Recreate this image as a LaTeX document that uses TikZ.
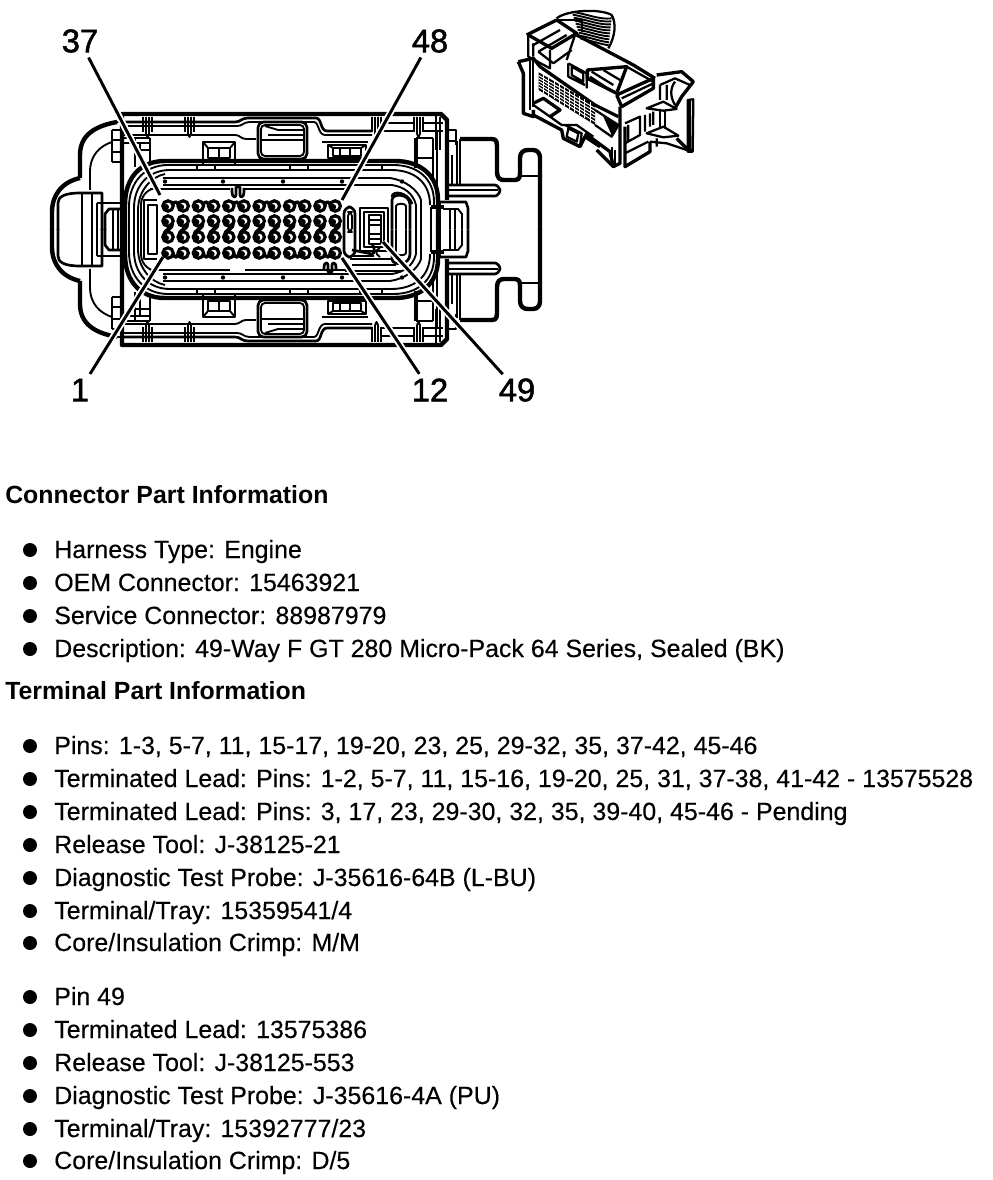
\documentclass[tikz,border=0pt]{standalone}
\usepackage{fontspec}
\setmainfont{Liberation Sans}
\newfontfamily\numfont[FakeBold=1.6]{Liberation Sans}
\newfontfamily\itemfont[FakeBold=0.25]{Liberation Sans}
\tikzset{
  thinl/.style={draw=black,line width=1.4pt,line join=round},
  medl/.style={draw=black,line width=2pt,line join=round},
  thickl/.style={draw=black,line width=3.3pt,line join=round},
  leader/.style={preaction={draw=white,line width=5pt},draw=black,line width=2.2pt},
  numlabel/.style={font=\fontsize{24.5}{28}\numfont,inner sep=0pt},
  head/.style={font=\fontsize{18.65}{22}\selectfont\bfseries,inner sep=0pt,anchor=base west},
  item/.style={font=\fontsize{18.7}{22}\itemfont,inner sep=0pt,anchor=base west},
  dotb/.style={circle,fill=black,minimum size=10.5pt,inner sep=0pt}
}
\newcommand{\halfbody}{%
  % outer body
  \draw[thickl] (122,230) -- (122,114) -- (441,114) -- (447,120) -- (447,200);
  \draw[medl] (116,122) -- (122,122);
  % left flange
  \draw[thickl] (117,122) .. controls (95,126) and (80,135) .. (80,155) -- (80,178);
  \draw[thinl] (112,142) .. controls (100,146) and (90,155) .. (90,172) -- (90,190);
  \draw[thickl] (80,178) .. controls (62,182) and (52,195) .. (52,212) -- (52,230);
  % lobe
  \draw[medl] (58,230) -- (58,203) .. controls (58,197) and (64,193) .. (80,193) -- (102,193) -- (102,230);
  \draw[medl] (82,193) -- (82,230);
  \draw[thinl] (92,193) -- (92,230);
  \draw[thinl] (97,203) -- (122,203);
  \draw[medl] (97,230) -- (97,203);
  \draw[medl] (105,230) -- (105,214) -- (109,209) -- (122,209);
  \draw[thinl] (113,209) -- (113,230); \draw[thinl] (118,209) -- (118,230);
  \draw[thinl] (112,130) -- (120,130) (112,130) -- (112,162) (120,140) -- (112,140) (120,152) -- (112,152);
  \draw[thinl] (112,162) -- (120,162);
  % top rail lines
  \draw[medl] (123,122) -- (235,122) .. controls (241,122) and (241,118) .. (248,118) -- (316,118) .. controls (322,118) and (320,131) .. (327,131) -- (372,131);
  \draw[thinl] (123,126) -- (237,126) .. controls (243,126) and (243,122) .. (250,122) -- (314,122) .. controls (319,122) and (318,135) .. (325,135) -- (372,135);
  \draw[thinl] (123,135) -- (235,135) .. controls (240,135) and (241,139) .. (246,139) -- (256,139);
  \draw[thinl] (380,123) -- (415,123) (380,131) -- (415,131) (423,123) -- (443,123) (423,131) -- (443,131);
  % ribs
  \foreach \x in {143,185,372,414}{
    \draw[thinl] (\x,117) -- (\x,132) (\x+3,117) -- (\x+3,134) (\x+6,117) -- (\x+6,134) (\x+9,117) -- (\x+9,132);
    \draw[thinl] (\x+3,134) -- (\x+4.5,137) -- (\x+6,134);
  }
  % windows
  \draw[medl,rounded corners=4pt] (258,122) rectangle (307,159);
  \draw[thinl,rounded corners=3pt] (261,125) rectangle (304,156);
  \draw[medl] (261,140) -- (304,140);
  \draw[thinl] (265,126) -- (278,130) -- (304,130);
  \draw[thinl] (268,135) -- (304,135);
  % small frames
  \draw[medl] (203,142) rectangle (235,165);
  \draw[medl] (208,148) rectangle (230,158);
  \draw[thinl] (203,142) -- (208,148) (235,142) -- (230,148) (219,148) -- (219,158);
  \draw[thinl] (322,142) -- (368,142);
  \draw[medl] (328,145) rectangle (366,158);
  \draw[thinl] (333,148) rectangle (361,156);
  \draw[thinl] (340,148) -- (340,156) (350,148) -- (350,156) (328,145) -- (333,148) (366,145) -- (361,148);
  \draw[thinl] (122,138) -- (150,138) (122,143) -- (150,143) (135,150) -- (150,150) (135,138) -- (135,167) (140,143) -- (140,162) (150,138) -- (150,165);
  % long rails
  \draw[thinl] (197,165) -- (197,170) (215,165) -- (215,170) (290,165) -- (290,170) (308,165) -- (308,170) (360,165) -- (360,170) (382,165) -- (382,170);
  % nested rounded outlines, top half
  \draw[thickl] (125,230) -- (125,205) .. controls (125,178) and (140,161) .. (165,161) -- (395,161) .. controls (420,161) and (438,175) .. (438,200) -- (438,230);
  \draw[thinl] (129,230) -- (129,207) .. controls (129,182) and (145,165) .. (168,165) -- (393,165) .. controls (417,165) and (434,178) .. (434,202) -- (434,207);
  \draw[thinl] (134,230) -- (134,208) .. controls (134,186) and (148,170) .. (170,170) -- (391,170) .. controls (414,170) and (430,182) .. (430,205);
  \draw[thinl] (138,230) -- (138,210) .. controls (138,192) and (150,177) .. (165,174);
  % inner rails
  \draw[medl] (163,178) -- (390,178);
  \draw[medl] (163,185) -- (392,185);
  \draw[medl] (150,189) -- (230,189) (245,189) -- (350,189);
  \draw[thinl] (390,178) .. controls (405,180) and (418,190) .. (421,200) -- (421,230);
  \draw[thinl] (392,185) .. controls (404,187) and (413,193) .. (416,205) -- (416,230);
  % rail dots
  \foreach \x in {165,223,283,342,402}{\fill (\x,181.5) circle (2.2);}
  % left pin recess
  \draw[thinl] (141,230) -- (141,205) .. controls (141,197) and (146,190) .. (155,188);
  \draw[medl] (144,230) -- (144,200) -- (157,200);
  \draw[thinl] (148,230) -- (148,205) -- (157,205) -- (157,230);
  % pin 49 pocket
  \draw[medl] (360,229.5) -- (360,208) -- (388,208) -- (388,229.5);
  \draw[thinl] (364,229.5) -- (364,212) -- (384,212) -- (384,229.5);
  \draw[thinl] (369,229.5) -- (369,215) -- (381,215) -- (381,229.5);
  \draw[thinl] (369,220) -- (381,220) (369,225) -- (381,225);
  % long U
  \draw[medl] (392,229.5) -- (392,200) .. controls (392,193) and (410,193) .. (410,205) -- (410,229.5);
  \draw[thinl] (396,229.5) -- (396,206) .. controls (396,203) and (406,203) .. (406,206) -- (406,229.5);
  % right side
  \draw[thickl] (431,207) -- (444,207);
  \draw[thinl] (431,207) -- (431,229.5) (440,202) -- (440,229.5);
  \draw[medl] (440,202) -- (466,202) -- (468,208) -- (468,229.5);
  \draw[thinl] (443,209) -- (458,209) -- (462,214) -- (462,229.5) (450,209) -- (450,229.5) (455,209) -- (455,229.5);
  % right blocks
  \draw[thickl] (416,138) -- (416,168);
  \draw[medl] (416,138) -- (433,138) (416,158) -- (433,158) (433,138) -- (433,178);
  \draw[thinl] (437,130) -- (437,190);
  \draw[medl] (447,130) -- (456,130) -- (456,145);
  \draw[thinl] (447,141) -- (456,141);
  \draw[thinl] (452,155) -- (452,185) (457,141) -- (457,185);
  % right arms
  \draw[thickl] (460,139) -- (492,139) .. controls (497,139) and (497,143) .. (497,146) -- (497,172) .. controls (497,178) and (500,180) .. (504,180) -- (515,180) .. controls (520,180) and (520,176) .. (520,172) -- (520,158) .. controls (520,152) and (524,150) .. (528,150) -- (533,150) .. controls (538,150) and (540,154) .. (540,158) -- (540,230);
  \draw[medl] (520,176) -- (540,176);
  \draw[medl] (460,139) -- (460,185);
  \draw[medl] (447,185) -- (495,185) .. controls (498,185) and (500,190) .. (500,190) .. controls (500,193) and (497,196) .. (495,196) -- (447,196);
  \draw[thinl] (447,190) -- (498,190);
  % corner detail
  \draw[medl] (436,114) -- (436,150);
  \draw[thinl] (440,117) -- (440,150) ;
}
\begin{document}
\begin{tikzpicture}[x=0.75pt,y=-0.75pt]
  \useasboundingbox (0,0) rectangle (992,1180);
  \fill[white] (0,0) rectangle (992,1180);
  % connector plan: upper half and its mirror image
  \begin{scope}\halfbody\end{scope}
  \begin{scope}[yshift=-344.25pt,yscale=-1]\halfbody\end{scope}
  % unmirrored details
  \draw[medl] (232,188) -- (232,192) .. controls (232,198) and (236,198) .. (236,195) -- (236,187) -- (240,187) -- (240,195) .. controls (240,198) and (244,198) .. (244,192) -- (244,188);
  \draw[medl] (324,271) -- (324,267) .. controls (324,262) and (328,262) .. (328,265) -- (328,272) -- (332,272) -- (332,265) .. controls (332,262) and (336,262) .. (336,267) -- (336,271);
  \draw[medl,rounded corners=5pt] (344,207) rectangle (355,257);
  \draw[thinl,rounded corners=3pt] (348,212) rectangle (352,232);
  \draw[medl] (352,250) -- (372,254) .. controls (376,254) and (374,246) .. (372,244);
  \draw[thinl] (352,256) -- (374,256) (380,248) .. controls (375,250) and (375,254) .. (380,257);
  \draw[medl] (350,259) -- (392,259) (352,265) -- (396,265) (345,271) -- (402,271);
  \draw[medl] (392,197) .. controls (392,190) and (408,192) .. (412,204);
  % pin cavities
  \foreach \i in {0,...,11}{
    \pgfmathsetmacro{\xx}{168+15.2*\i}
    \foreach \yy in {206,221,237,253}{
      \draw[line width=2.4pt] (\xx,\yy) circle (5.2);
      \fill (\xx-2,\yy+1) circle (3);
    }
    \draw[line width=3pt] (\xx+3,223) .. controls (\xx+7,228) and (\xx-6,231) .. (\xx-3,235);
  }
  \foreach \i in {0,2,...,10}{
    \pgfmathsetmacro{\xx}{168+15.2*\i}
    \draw[line width=2.4pt] (\xx+5,204) .. controls (\xx+7,201) and (\xx+9,202) .. (\xx+10,204);
    \draw[line width=2.4pt] (\xx+5,254) .. controls (\xx+7,258) and (\xx+9,258) .. (\xx+10,254);
  }
  % perspective thumbnail, drawn in 3x crop units
  \begin{scope}[xshift=375pt,yshift=-7.5pt,x=0.25pt,y=-0.25pt,medl/.append style={line width=1.7pt},thickl/.append style={line width=2.5pt}]
    \draw[medl] (170,25) .. controls (200,0) and (300,-5) .. (335,15) .. controls (350,40) and (345,80) .. (325,115);
    \foreach \k in {0,1,...,9}{
      \draw[thinl] (215+\k*3,5+\k*9) .. controls (260+\k*2,12+\k*9) and (300,30+\k*8) .. (335-\k*1,25+\k*9);
    }
    \draw[thickl] (80,75) -- (170,30) -- (230,70) -- (155,115) -- (85,75);
    \draw[medl] (170,30) -- (245,30) -- (245,65);
    \draw[medl] (100,105) -- (180,60) (115,125) -- (200,75) (85,75) -- (85,140) -- (150,175) -- (150,120);
    \draw[medl] (225,75) -- (200,150) (100,100) -- (100,140) (115,125) -- (160,160) (160,160) -- (215,120);
    \draw[thickl] (230,75) -- (400,165) -- (465,205);
    \draw[medl] (205,160) -- (260,190) -- (260,235);
    \draw[medl] (205,160) -- (205,200) -- (255,225) (215,170) -- (250,190) -- (250,215) -- (215,195) -- cycle;
    \draw[thickl] (55,155) -- (100,145) -- (120,170) -- (285,285) -- (355,320);
    \draw[thickl] (55,155) -- (70,190) -- (70,310) -- (100,320) -- (100,300);
    \draw[medl] (90,150) -- (90,300) (100,150) -- (100,290);
    \fill (116,187) -- (285,285) -- (285,345) -- (116,240) -- cycle;
    \foreach \k in {1,...,10}{
      \draw[white,line width=.7pt] (116+\k*15.4,187+\k*8.9) -- (116+\k*15.4,240+\k*9.5);
    }
    \foreach \k in {1,...,5}{
      \draw[white,line width=.7pt] (116,187+\k*8.8) -- (285,285+\k*10);
    }
    \draw[thickl] (100,280) -- (130,265) -- (180,300) -- (150,320);
    \draw[medl] (100,285) -- (150,320) -- (185,345) -- (230,345) -- (280,380);
    \draw[thickl] (100,315) -- (185,360) -- (190,385) -- (240,410) -- (255,380) -- (300,410);
    \draw[medl] (195,345) -- (245,370) -- (240,410) (205,355) -- (235,370) -- (230,395) -- (200,380) -- cycle;
    \draw[thickl] (290,420) -- (340,470) -- (360,460) -- (360,290);
    \draw[thickl] (255,370) -- (330,425) -- (340,470);
    \draw[medl] (285,300) -- (355,345) -- (335,380) -- (285,345);
    \fill (310,320) -- (355,345) -- (335,375) -- cycle;
    \draw[thickl] (262,180) -- (380,170) -- (350,250) -- (262,205) -- cycle;
    \draw[medl] (275,185) -- (340,225) (310,180) -- (360,210) (270,200) -- (330,240);
    \draw[thickl] (350,255) -- (460,205) -- (460,235) -- (365,290) -- (350,255);
    \draw[medl] (380,170) -- (460,215) (365,265) -- (460,220);
    \draw[thickl] (470,195) -- (545,185) -- (580,215) -- (545,260) -- (525,295);
    \draw[medl] (480,225) -- (525,205) -- (570,225) (480,225) -- (480,270) (500,225) -- (500,270) (525,215) .. controls (510,235) and (510,260) .. (525,285);
    \draw[medl] (440,295) -- (490,275) -- (530,297) -- (490,302) -- cycle;
    \draw[medl] (440,370) -- (490,350) -- (535,377) -- (490,382) -- cycle;
    \draw[medl] (480,302) -- (480,352) (495,302) -- (495,352);
    \draw[medl] (563,270) -- (580,268) -- (578,425) -- (563,425) -- cycle (570,270) -- (570,425);
    \draw[thickl] (375,350) -- (375,470) -- (450,425) -- (450,395);
    \draw[medl] (375,340) -- (420,320) -- (420,375) -- (375,400) (385,345) -- (385,395) (435,315) -- (435,365) (450,310) -- (450,350) (460,305) -- (460,345);
    \draw[medl] (375,430) -- (445,395) (450,395) -- (500,400) -- (575,425) (470,385) -- (470,410);
    \draw[thickl] (530,385) -- (555,410) -- (578,425);
    \draw[medl] (345,420) -- (345,470) (335,410) -- (335,465);
  \end{scope}
  % callouts
  \node[numlabel] (n37) at (80,41) {37};
  \node[numlabel] (n48) at (430,41) {48};
  \node[numlabel] (n1) at (80,390) {1};
  \node[numlabel] (n12) at (430,390) {12};
  \node[numlabel] (n49) at (517,390) {49};
  \coordinate (p37) at (160,195);
  \coordinate (p48) at (342,200);
  \coordinate (p1) at (163,257);
  \coordinate (p12) at (342,258);
  \coordinate (p49) at (383,242);
  \draw[leader,shorten <=4pt] (n37) -- (p37);
  \draw[leader,shorten <=4pt] (n48) -- (p48);
  \draw[leader,shorten <=4pt] (n1) -- (p1);
  \draw[leader,shorten <=4pt] (n12) -- (p12);
  \draw[leader,shorten <=4pt] (n49) -- (p49);
  % text
  \node[head] (h1) at (5,503) {Connector Part Information};
  \node[head] (h2) at (5,699) {Terminal Part Information};
  \foreach \nm/\yy/\tx in {
    a/558/{Harness Type: Engine},
    b/591/{OEM Connector: 15463921},
    c/624/{Service Connector: 88987979},
    d/657/{Description: 49-Way F GT 280 Micro-Pack 64 Series, Sealed (BK)},
    e/754/{Pins: 1-3, 5-7, 11, 15-17, 19-20, 23, 25, 29-32, 35, 37-42, 45-46},
    f/787/{Terminated Lead: Pins: 1-2, 5-7, 11, 15-16, 19-20, 25, 31, 37-38, 41-42 - 13575528},
    g/820/{Terminated Lead: Pins: 3, 17, 23, 29-30, 32, 35, 39-40, 45-46 - Pending},
    i/853/{Release Tool: J-38125-21},
    j/886/{Diagnostic Test Probe: J-35616-64B (L-BU)},
    k/919/{Terminal/Tray: 15359541/4},
    l/951/{Core/Insulation Crimp: M/M},
    m/1005/{Pin 49},
    n/1038/{Terminated Lead: 13575386},
    o/1071/{Release Tool: J-38125-553},
    p/1104/{Diagnostic Test Probe: J-35616-4A (PU)},
    q/1137/{Terminal/Tray: 15392777/23},
    r/1169/{Core/Insulation Crimp: D/5}}{
    \node[item] (t\nm) at (54,\yy) {\tx};
    \node[dotb] (b\nm) at (30,\yy-8) {};
  }
\end{tikzpicture}
\end{document}
